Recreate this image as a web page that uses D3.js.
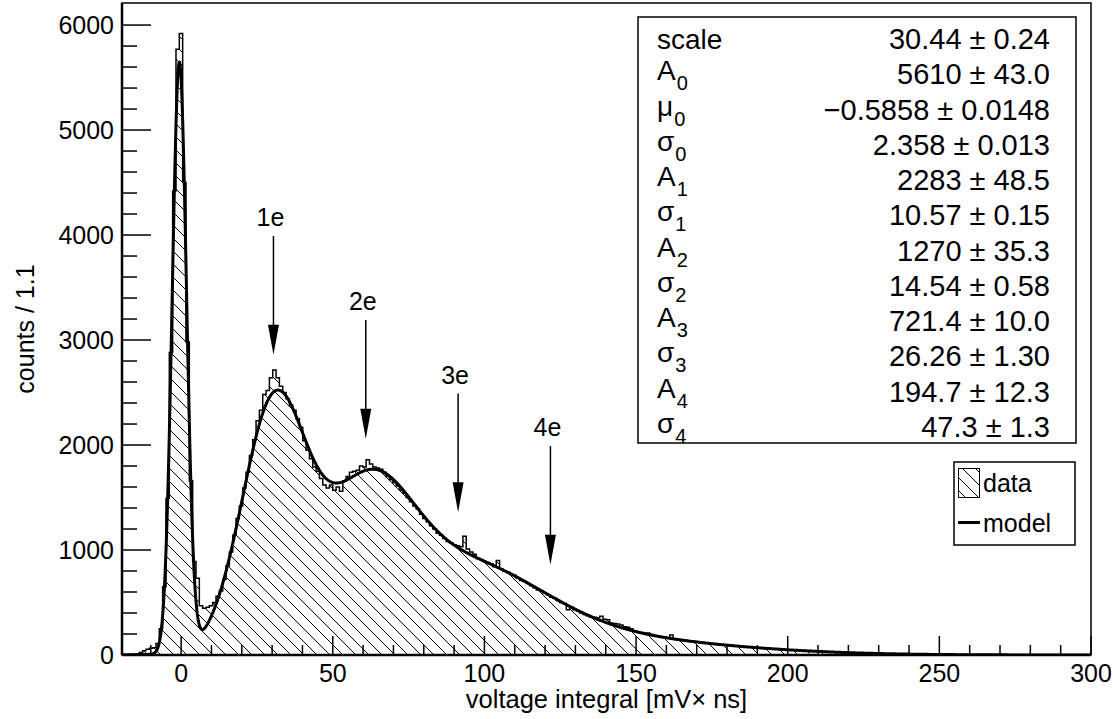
<!DOCTYPE html>
<html>
<head>
<meta charset="utf-8">
<script src="https://cdn.jsdelivr.net/npm/d3@7"></script>
<style>
  body { margin: 0; background: #fff; }
  svg { display: block; }
  text { font-family: "Liberation Sans", Arial, Helvetica, sans-serif; fill: #000; }
</style>
</head>
<body>
<svg id="chart" width="1113" height="719"></svg>
<script>
// Histogram: 290 bins of width 1.1 starting at -19.3
const binStart = -19.3;
const binWidth = 1.1;
const counts = [
  2, 3, 4, 7, 12, 25, 40, 55, 65, 70,
  110, 250, 650, 1490, 2880, 4420, 5770, 5920, 4500, 2980,
  1660, 890, 730, 470, 445, 455, 470, 500, 560, 610,
  720, 850, 980, 1140, 1300, 1420, 1590, 1740, 1900, 2050,
  2230, 2330, 2480, 2520, 2640, 2715, 2640, 2560, 2500, 2440,
  2380, 2330, 2250, 2170, 2040, 1950, 1870, 1790, 1750, 1680,
  1620, 1590, 1620, 1570, 1600, 1560, 1660, 1700, 1740, 1750,
  1760, 1800, 1790, 1860, 1820, 1790, 1780, 1770, 1740, 1700,
  1670, 1640, 1610, 1570, 1540, 1500, 1460, 1420, 1390, 1340,
  1300, 1270, 1230, 1200, 1160, 1140, 1110, 1080, 1070, 1050,
  1040, 1030, 1130, 1010, 980, 960, 920, 910, 890, 880,
  870, 840, 900, 820, 800, 790, 770, 760, 730, 710,
  700, 680, 660, 640, 620, 610, 590, 575, 550, 540,
  520, 500, 490, 430, 455, 430, 420, 400, 385, 375,
  360, 360, 355, 370, 340, 335, 305, 300, 295, 285,
  270, 265, 250, 230, 220, 215, 205, 210, 195, 185,
  180, 175, 170, 165, 190, 155, 148, 143, 140, 135,
  130, 128, 122, 120, 116, 112, 108, 104, 100, 98,
  95, 92, 90, 86, 84, 80, 78, 75, 73, 70,
  68, 65, 63, 60, 58, 56, 54, 52, 50, 48,
  46, 45, 43, 41, 40, 38, 36, 35, 34, 32,
  31, 30, 28, 27, 26, 25, 24, 23, 22, 21,
  20, 19, 18, 17, 16, 15, 14, 14, 13, 12,
  11, 11, 10, 9, 9, 8, 8, 7, 7, 7,
  6, 6, 5, 5, 5, 4, 4, 4, 4, 3,
  3, 3, 3, 3, 2, 2, 2, 2, 2, 2,
  2, 2, 1, 1, 1, 1, 1, 1, 1, 1,
  1, 1, 1, 1, 1, 1, 0, 0, 0, 0,
  0, 0, 0, 0, 0, 0, 0, 0, 0, 0
];

// Fit result: pedestal + four photo-electron peaks
const gainScale = 30.44;
const pedestalMean = -0.5858;
const peakAmplitudes = [5610, 2283, 1270, 721.4, 194.7];
const peakSigmas = [2.358, 10.57, 14.54, 26.26, 47.3];

// Parameter table rows: symbol, subscript, value, error
const paramSymbols   = ["scale", "A", "\u03bc", "\u03c3", "A", "\u03c3", "A", "\u03c3", "A", "\u03c3", "A", "\u03c3"];
const paramIndices   = ["", "0", "0", "0", "1", "1", "2", "2", "3", "3", "4", "4"];
const paramValues    = ["30.44", "5610", "\u22120.5858", "2.358", "2283", "10.57", "1270", "14.54", "721.4", "26.26", "194.7", "47.3"];
const paramErrors    = ["0.24", "43.0", "0.0148", "0.013", "48.5", "0.15", "35.3", "0.58", "10.0", "1.30", "12.3", "1.3"];

// Peak markers
const peakLabels = ["1e", "2e", "3e", "4e"];
const arrowTop = [3990, 3190, 2490, 1990];
const arrowTip = [2860, 2060, 1360, 860];

// Axis ticks
const xMajorTicks = [0, 50, 100, 150, 200, 250, 300];
const yMajorTicks = [0, 1000, 2000, 3000, 4000, 5000, 6000];
const legendLabels = ["data", "model"];

const svg = d3.select("#chart");
const plot = { left: 122, right: 1091, top: 3, bottom: 655 };

const x = d3.scaleLinear().domain([-19.5, 300]).range([plot.left, plot.right]);
const y = d3.scaleLinear().domain([0, 6210]).range([plot.bottom, plot.top]);

const defs = svg.append("defs");
const hs = 13;
defs.append("pattern")
  .attr("id", "hatch")
  .attr("patternUnits", "userSpaceOnUse")
  .attr("width", hs).attr("height", hs)
  .append("path")
  .attr("d", `M-1,-1 L${hs + 1},${hs + 1} M${hs - 1},-1 L${hs + 1},1 M-1,${hs - 1} L1,${hs + 1}`)
  .attr("stroke", "#000").attr("stroke-width", 1);

defs.append("clipPath").attr("id", "plotClip")
  .append("rect")
  .attr("x", plot.left).attr("y", plot.top)
  .attr("width", plot.right - plot.left).attr("height", plot.bottom - plot.top);

// Histogram as steps
const steps = [];
counts.forEach((c, i) => {
  const lo = binStart + i * binWidth;
  steps.push([lo, c], [lo + binWidth, c]);
});

const g = svg.append("g").attr("clip-path", "url(#plotClip)");

g.append("path")
  .datum(steps)
  .attr("d", d3.area().x(d => x(d[0])).y0(y(0)).y1(d => y(d[1])))
  .attr("fill", "url(#hatch)");

g.append("path")
  .datum(steps)
  .attr("d", d3.line().x(d => x(d[0])).y(d => y(d[1])))
  .attr("fill", "none").attr("stroke", "#000").attr("stroke-width", 1.5);

// Fit model curve
function model(v) {
  let s = 0;
  peakAmplitudes.forEach((a, n) => {
    const mu = n === 0 ? pedestalMean : n * gainScale;
    const sg = peakSigmas[n];
    s += a * Math.exp(-((v - mu) ** 2) / (2 * sg * sg));
  });
  return s;
}
const xs = d3.range(-19.5, 300.01, 0.2);
g.append("path")
  .datum(xs)
  .attr("d", d3.line().x(d => x(d)).y(d => y(model(d))))
  .attr("fill", "none").attr("stroke", "#000").attr("stroke-width", 3)
  .attr("stroke-linejoin", "round");

// Frame
svg.append("rect")
  .attr("x", plot.left).attr("y", plot.top)
  .attr("width", plot.right - plot.left).attr("height", plot.bottom - plot.top)
  .attr("fill", "none").attr("stroke", "#000").attr("stroke-width", 1.5);

// Axes (ticks drawn inward)
const axes = svg.append("g");
axes.append("line").attr("x1", plot.left).attr("x2", plot.right)
  .attr("y1", plot.bottom).attr("y2", plot.bottom).attr("stroke", "#000").attr("stroke-width", 2.5);
axes.append("line").attr("x1", plot.left).attr("x2", plot.left)
  .attr("y1", plot.top).attr("y2", plot.bottom).attr("stroke", "#000").attr("stroke-width", 2.5);

const xMinor = d3.range(-10, 300, 10).filter(v => !xMajorTicks.includes(v));
xMinor.forEach(v => axes.append("line")
  .attr("x1", x(v)).attr("x2", x(v)).attr("y1", plot.bottom).attr("y2", plot.bottom - 10)
  .attr("stroke", "#000").attr("stroke-width", 1.5));
xMajorTicks.forEach(v => {
  axes.append("line")
    .attr("x1", x(v)).attr("x2", x(v)).attr("y1", plot.bottom).attr("y2", plot.bottom - 19)
    .attr("stroke", "#000").attr("stroke-width", 1.5);
  axes.append("text").attr("x", x(v)).attr("y", plot.bottom + 27)
    .attr("text-anchor", "middle").attr("font-size", 25).text(v);
});

const yMinor = d3.range(200, 6200, 200).filter(v => !yMajorTicks.includes(v));
yMinor.forEach(v => axes.append("line")
  .attr("x1", plot.left).attr("x2", plot.left + 15).attr("y1", y(v)).attr("y2", y(v))
  .attr("stroke", "#000").attr("stroke-width", 1.5));
yMajorTicks.forEach(v => {
  axes.append("line")
    .attr("x1", plot.left).attr("x2", plot.left + 29).attr("y1", y(v)).attr("y2", y(v))
    .attr("stroke", "#000").attr("stroke-width", 1.5);
  axes.append("text").attr("x", plot.left - 8).attr("y", y(v) + 9)
    .attr("text-anchor", "end").attr("font-size", 25).text(v);
});

svg.append("text")
  .attr("x", (plot.left + plot.right) / 2).attr("y", 708)
  .attr("text-anchor", "middle").attr("font-size", 25.5)
  .text("voltage integral [mV\u00d7 ns]");

svg.append("text")
  .attr("transform", `translate(34,${(plot.top + plot.bottom) / 2}) rotate(-90)`)
  .attr("text-anchor", "middle").attr("font-size", 25)
  .text("counts / 1.1");

// Peak arrows
const arrows = svg.append("g");
peakLabels.forEach((lab, i) => {
  const px = x((i + 1) * gainScale);
  const yt = y(arrowTop[i]);
  const yp = y(arrowTip[i]);
  arrows.append("line").attr("x1", px).attr("x2", px).attr("y1", yt).attr("y2", yp - 10)
    .attr("stroke", "#000").attr("stroke-width", 1.5);
  arrows.append("path")
    .attr("d", `M${px - 5.5},${yp - 30} L${px + 5.5},${yp - 30} L${px},${yp} Z`)
    .attr("fill", "#000");
  arrows.append("text").attr("x", px - 3).attr("y", yt - 10)
    .attr("text-anchor", "middle").attr("font-size", 25).text(lab);
});

// Fit parameter box
const box = { x0: 638, y0: 17, x1: 1076, y1: 443 };
const stats = svg.append("g");
stats.append("rect")
  .attr("x", box.x0).attr("y", box.y0)
  .attr("width", box.x1 - box.x0).attr("height", box.y1 - box.y0)
  .attr("fill", "#fff").attr("stroke", "#000").attr("stroke-width", 1.5);

const rowY = d3.scaleLinear().domain([0, paramSymbols.length - 1]).range([49, 437]);
paramSymbols.forEach((sym, i) => {
  const by = rowY(i);
  if (paramIndices[i] === "") {
    stats.append("text").attr("x", 657).attr("y", by).attr("font-size", 28).text(sym);
  } else {
    const t = stats.append("text").attr("x", 657).attr("y", by - 4).attr("font-size", 28);
    t.append("tspan").text(sym);
    t.append("tspan").attr("dx", 1).attr("dy", 10).attr("font-size", 20).text(paramIndices[i]);
  }
  stats.append("text").attr("x", 1050).attr("y", by)
    .attr("text-anchor", "end").attr("font-size", 29)
    .text(`${paramValues[i]} \u00b1 ${paramErrors[i]}`);
});

// Legend
const lg = svg.append("g");
lg.append("rect").attr("x", 954).attr("y", 462).attr("width", 121).attr("height", 83)
  .attr("fill", "#fff").attr("stroke", "#000").attr("stroke-width", 1.5);
lg.append("rect").attr("x", 958.5).attr("y", 468.5).attr("width", 21).attr("height", 29)
  .attr("fill", "url(#hatch)").attr("stroke", "#000").attr("stroke-width", 1);
lg.append("line").attr("x1", 958).attr("x2", 980).attr("y1", 522.5).attr("y2", 522.5)
  .attr("stroke", "#000").attr("stroke-width", 3);
lg.append("text").attr("x", 983).attr("y", 492).attr("font-size", 25).text(legendLabels[0]);
lg.append("text").attr("x", 983).attr("y", 532).attr("font-size", 25).text(legendLabels[1]);
</script>
</body>
</html>
